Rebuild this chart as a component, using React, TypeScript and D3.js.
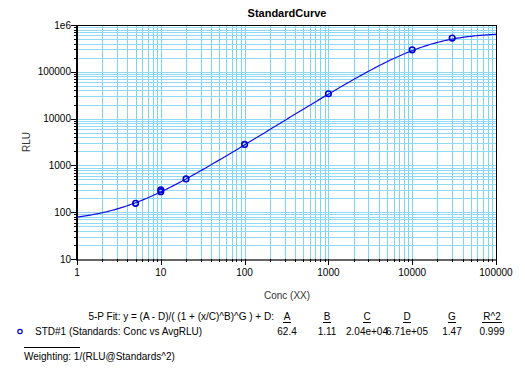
import React from "react";
import * as d3 from "d3";

// standards (Conc vs AvgRLU)
const stdConc = [5, 10, 10, 20, 100, 1000, 10000, 30000];
const stdRlu = [155, 275, 300, 515, 2800, 34000, 295000, 525000];

// 5-PL fit parameters shown in the table
const fitNames = ["A", "B", "C", "D", "G", "R^2"];
const fitLabels = ["62.4", "1.11", "2.04e+04", "6.71e+05", "1.47", "0.999"];
const fitA = 62.4;
const fitB = 1.11;
const fitC = 2.04e4;
const fitD = 6.71e5;
const fitG = 1.47;

const xTicks = [1, 10, 100, 1000, 10000, 100000];
const yTicks = [10, 100, 1000, 10000, 100000, 1000000];
const yTickLabels = ["10", "100", "1000", "10000", "100000", "1e6"];

const W = 525;
const H = 374;
const m = { left: 77, right: 496, top: 25, bottom: 259 };
const gridV = "#7ed4f6";
const gridH = "#8fdaf7";
const font = "'Liberation Sans', Arial, sans-serif";

const minors = (lo: number, hi: number) => {
  const out: number[] = [];
  for (let p = lo; p < hi; p *= 10) {
    for (let k = 1; k < 10; k++) out.push(p * k);
  }
  out.push(hi);
  return out;
};

const App = () => {
  const x = d3.scaleLog().domain([1, 100000]).range([m.left, m.right]);
  const y = d3.scaleLog().domain([10, 1000000]).range([m.bottom, m.top]);

  const fit = (c: number) =>
    (fitA - fitD) / Math.pow(1 + Math.pow(c / fitC, fitB), fitG) + fitD;

  const xs = d3.range(0, 5.0001, 0.02).map((e) => Math.pow(10, e));
  const curve = d3
    .line<number>()
    .x((c) => x(c))
    .y((c) => y(fit(c)));

  const xGrid = minors(1, 100000);
  const yGrid = minors(10, 1000000);

  const colX = [287, 327, 367, 407, 452, 492];

  return (
    <svg
      width={W}
      height={H}
      style={{ position: "absolute", left: 0, top: 0, background: "#fff" }}
      fontFamily={font}
    >
      <rect x={0} y={0} width={W} height={H} fill="#fff" />
      {/* grid */}
      <g shapeRendering="crispEdges">
        {xGrid.map((v, i) => (
          <line
            key={"gx" + i}
            x1={Math.round(x(v)) + 0.5}
            x2={Math.round(x(v)) + 0.5}
            y1={m.top}
            y2={m.bottom}
            stroke={gridV}
          />
        ))}
        {yGrid.map((v, i) => (
          <line
            key={"gy" + i}
            y1={Math.round(y(v)) + 0.5}
            y2={Math.round(y(v)) + 0.5}
            x1={m.left}
            x2={m.right}
            stroke={gridH}
          />
        ))}
      </g>
      {/* frame */}
      <g shapeRendering="crispEdges">
        <line x1={m.left} x2={m.right} y1={m.top + 0.5} y2={m.top + 0.5} stroke="#000" />
        <line x1={m.right + 0.5} x2={m.right + 0.5} y1={m.top} y2={m.bottom} stroke="#000" />
        <line x1={m.left - 0.5} x2={m.left - 0.5} y1={m.top} y2={m.bottom + 1} stroke="#000" strokeWidth={2} />
        <line x1={m.left - 1} x2={m.right + 1} y1={m.bottom + 0.5} y2={m.bottom + 0.5} stroke="#666" strokeWidth={2} />
        {/* y ticks */}
        {yGrid.map((v, i) => {
          const major = yTicks.includes(v);
          const yy = Math.round(y(v)) + 0.5;
          return (
            <line key={"ty" + i} x1={m.left - (major ? 6 : 3)} x2={m.left} y1={yy} y2={yy} stroke="#000" />
          );
        })}
        {/* x ticks */}
        {xGrid.map((v, i) => {
          const major = xTicks.includes(v);
          const xx = Math.round(x(v)) + 0.5;
          return (
            <line key={"tx" + i} x1={xx} x2={xx} y1={m.bottom} y2={m.bottom + (major ? 6 : 3)} stroke="#000" />
          );
        })}
      </g>
      {yTicks.map((v, i) => (
        <text key={"ly" + i} x={m.left - 6} y={y(v) + 3.5} fontSize={10} textAnchor="end" fill="#000">
          {yTickLabels[i]}
        </text>
      ))}
      {xTicks.map((v, i) => (
        <text key={"lx" + i} x={x(v)} y={m.bottom + 17} fontSize={10} textAnchor="middle" fill="#000">
          {String(v)}
        </text>
      ))}
      {/* curve */}
      <path d={curve(xs) || ""} fill="none" stroke="#1010e8" strokeWidth={1.2} />
      {stdConc.map((c, i) => (
        <circle key={"p" + i} cx={x(c)} cy={y(stdRlu[i])} r={2.8} fill="none" stroke="#0000cc" strokeWidth={1.6} />
      ))}
      {/* titles */}
      <text x={287} y={17} fontSize={11} fontWeight="bold" textAnchor="middle">
        StandardCurve
      </text>
      <text x={287} y={299} fontSize={10} textAnchor="middle" fill="#333">
        Conc (XX)
      </text>
      <text transform="translate(30,142) rotate(-90)" fontSize={10} textAnchor="middle" fill="#333">
        RLU
      </text>
      {/* fit table */}
      <text x={274} y={320} fontSize={10} textAnchor="end">
        5-P Fit: y = (A - D)/( (1 + (x/C)^B)^G ) + D:
      </text>
      {fitNames.map((n, i) => (
        <g key={"fn" + i}>
          <text x={colX[i]} y={320} fontSize={10} textAnchor="middle">
            {n}
          </text>
          <line
            x1={colX[i] - (n.length > 1 ? 10 : 4)}
            x2={colX[i] + (n.length > 1 ? 10 : 4)}
            y1={322.5}
            y2={322.5}
            stroke="#000"
          />
          <text x={colX[i]} y={335} fontSize={10} textAnchor="middle">
            {fitLabels[i]}
          </text>
        </g>
      ))}
      <circle cx={20} cy={331.5} r={2.2} fill="none" stroke="#0000cc" strokeWidth={1.2} />
      <text x={35} y={335} fontSize={10}>
        STD#1 (Standards: Conc vs AvgRLU)
      </text>
      <line x1={24} x2={80} y1={347.5} y2={347.5} stroke="#000" />
      <text x={24} y={360} fontSize={10}>
        Weighting: 1/(RLU@Standards^2)
      </text>
    </svg>
  );
};

export default App;
